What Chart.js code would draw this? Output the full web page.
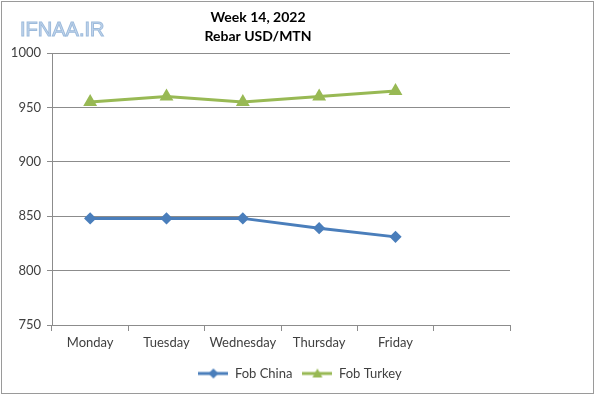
<!DOCTYPE html>
<html>
<head>
<meta charset="utf-8">
<script src="https://cdn.jsdelivr.net/npm/chart.js@4.4.0/dist/chart.umd.min.js"></script>
<style>
  html, body { margin: 0; padding: 0; background: #fff; }
  #wrap { width: 600px; height: 396px; position: relative; }
</style>
</head>
<body>
<div id="wrap"><canvas id="chart1"></canvas></div>
<script>
// data
let days = ["Monday", "Tuesday", "Wednesday", "Thursday", "Friday", ""];
let fobChina = [848, 848, 848, 839, 831, null];
let fobTurkey = [955, 960, 955, 960, 965, null];
let titleLines = ["Week 14, 2022", "Rebar USD/MTN"];

let blue = "#4a7ebb";
let green = "#98b954";
let gridGray = "#8c8c8c";
let textGray = "#404040";

// little line+marker picture for the legend, like Excel does
function legendIcon(color, shape) {
    let c = document.createElement("canvas");
    c.width = 30; c.height = 12;
    let g = c.getContext("2d");
    g.strokeStyle = color;
    g.lineWidth = 3;
    g.beginPath(); g.moveTo(0, 6); g.lineTo(30, 6); g.stroke();
    g.fillStyle = color;
    g.beginPath();
    if (shape == "diamond") {
        g.moveTo(15, 1); g.lineTo(20, 6); g.lineTo(15, 11); g.lineTo(10, 6);
    } else {
        g.moveTo(15, 1); g.lineTo(20, 10); g.lineTo(10, 10);
    }
    g.closePath(); g.fill();
    return c;
}

let decor = {
    id: "decor",
    afterLayout(chart) {
        // legend sits centred on the whole picture, not on the plot
        let lg = chart.legend;
        let shift = 300 - (lg.left + lg.right) / 2;
        lg.left += shift;
        lg.right += shift;
    },
    beforeDraw(chart) {
        let ctx = chart.ctx;
        ctx.save();
        ctx.fillStyle = "#fff";
        ctx.fillRect(0, 0, chart.width, chart.height);
        ctx.restore();
    },
    afterDraw(chart) {
        let ctx = chart.ctx;
        ctx.save();
        // frame
        ctx.strokeStyle = "#9a9a9a";
        ctx.lineWidth = 1;
        ctx.strokeRect(1.5, 1.5, 592, 392);
        // title
        ctx.fillStyle = "#000";
        ctx.font = "bold 14px Lato";
        ctx.textAlign = "center";
        ctx.textBaseline = "middle";
        ctx.fillText(titleLines[0], 258, 17);
        ctx.fillText(titleLines[1], 258, 36);
        // watermark
        ctx.font = "20px 'Liberation Sans'";
        ctx.textAlign = "left";
        ctx.fillStyle = "#c8d9ee";
        ctx.strokeStyle = "#9dbbdc";
        ctx.lineWidth = 1;
        ctx.fillText("IFNAA.IR", 20, 30);
        ctx.strokeText("IFNAA.IR", 20, 30);
        ctx.restore();
    }
};

let ctx = document.getElementById("chart1").getContext("2d");
let chart1 = new Chart(ctx, {
    type: "line",
    data: {
        labels: days,
        datasets: [
            {
                label: "Fob China",
                data: fobChina,
                borderColor: blue,
                backgroundColor: blue,
                borderWidth: 3,
                pointStyle: "rectRot",
                pointRadius: 4,
                pointHoverRadius: 4,
                tension: 0
            },
            {
                label: "Fob Turkey",
                data: fobTurkey,
                borderColor: green,
                backgroundColor: green,
                borderWidth: 3,
                pointStyle: "triangle",
                pointRadius: 5,
                pointHoverRadius: 5,
                tension: 0
            }
        ]
    },
    options: {
        responsive: true,
        maintainAspectRatio: false,
        animation: false,
        layout: { padding: { left: 0, right: 90, top: 53, bottom: 6 } },
        plugins: {
            title: { display: false },
            tooltip: { enabled: false },
            legend: {
                position: "bottom",
                labels: {
                    usePointStyle: true,
                    pointStyleWidth: 30,
                    color: textGray,
                    font: { family: "Lato", size: 13 },
                    padding: 10,
                    generateLabels(chart) {
                        return chart.data.datasets.map((d, i) => ({
                            text: d.label,
                            fontColor: textGray,
                            pointStyle: legendIcon(d.borderColor, i == 0 ? "diamond" : "triangle"),
                            datasetIndex: i,
                            hidden: false,
                            lineWidth: 0
                        }));
                    }
                }
            }
        },
        scales: {
            x: {
                offset: true,
                afterFit(s) { s.height = 32; },
                grid: {
                    offset: true,
                    drawOnChartArea: false,
                    drawTicks: true,
                    tickLength: 6,
                    color: gridGray
                },
                border: { color: gridGray, width: 1 },
                ticks: {
                    color: textGray,
                    font: { family: "Lato", size: 13 },
                    padding: 4,
                    maxRotation: 0
                }
            },
            y: {
                min: 750,
                max: 1000,
                afterFit(s) { s.width = 52; },
                ticks: {
                    stepSize: 50,
                    color: textGray,
                    font: { family: "Lato", size: 13 },
                    padding: 6,
                    callback: v => String(v)
                },
                grid: {
                    color: gridGray,
                    tickLength: 5,
                    drawTicks: true
                },
                border: { color: gridGray, width: 1 }
            }
        }
    },
    plugins: [decor]
});
</script>
</body>
</html>
